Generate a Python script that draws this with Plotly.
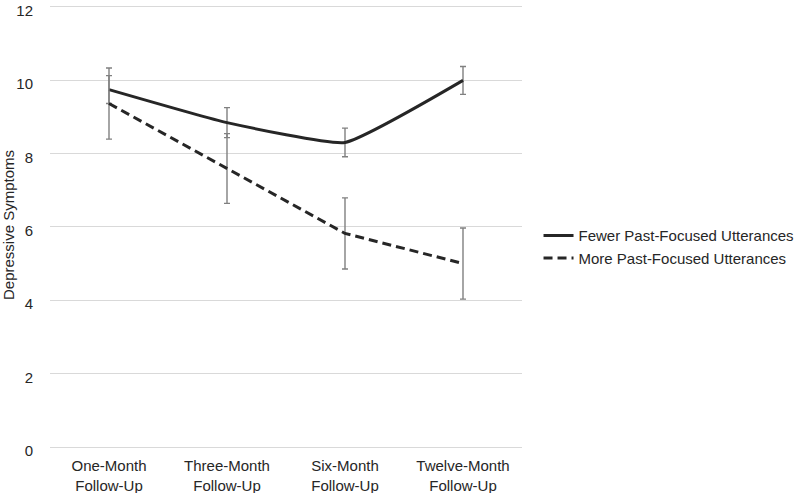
import plotly.graph_objects as go

categories = ["One-Month<br>Follow-Up", "Three-Month<br>Follow-Up", "Six-Month<br>Follow-Up", "Twelve-Month<br>Follow-Up"]
fewer_values = [9.74, 8.84, 8.30, 9.99]
fewer_err = [0.38, 0.41, 0.39, 0.38]
more_values = [9.36, 7.59, 5.82, 5.00]
more_err = [0.97, 0.95, 0.97, 0.97]
y_ticks = [0, 2, 4, 6, 8, 10, 12]

text_color = "#262626"
line_color = "#262626"
err_color = "#808080"
grid_color = "#d9d9d9"

fig = go.Figure()
fig.add_trace(go.Scatter(
    x=categories, y=fewer_values, mode="lines",
    name="Fewer Past-Focused Utterances",
    line=dict(color=line_color, width=3, shape="spline", smoothing=0.4),
    error_y=dict(type="data", array=fewer_err, visible=True, color=err_color, thickness=1.4, width=3),
))
fig.add_trace(go.Scatter(
    x=categories, y=more_values, mode="lines",
    name="More Past-Focused Utterances",
    line=dict(color=line_color, width=3, dash="9px,5px"),
    error_y=dict(type="data", array=more_err, visible=True, color=err_color, thickness=1.4, width=3),
))

fig.update_layout(
    width=800, height=493,
    margin=dict(l=50, r=278, t=3, b=46, autoexpand=False),
    paper_bgcolor="white", plot_bgcolor="white",
    font=dict(family="Liberation Sans, Arial, sans-serif", size=15, color=text_color),
    legend=dict(x=1.035, y=0.451, xanchor="left", yanchor="middle",
                font=dict(size=15, color=text_color), tracegroupgap=0, itemwidth=30),
    showlegend=True,
)
fig.update_xaxes(showgrid=False, showline=False, ticks="", tickfont=dict(size=15),
                 range=[-0.5, 3.5], ticklabelstandoff=8, automargin=False)
fig.update_yaxes(range=[0, 12.1], tickvals=y_ticks, showgrid=True, gridcolor=grid_color, gridwidth=1,
                 zeroline=True, zerolinecolor=grid_color, zerolinewidth=1, showline=False,
                 ticks="", tickfont=dict(size=15), ticklabelstandoff=16, automargin=False,
                 ticklabeloverflow="allow", ticklabelshift=4,
                 title=dict(text="Depressive Symptoms", font=dict(size=15), standoff=0))

fig.write_html("out.html", config={"displayModeBar": False},
               post_script="document.body.style.margin='0px';")
